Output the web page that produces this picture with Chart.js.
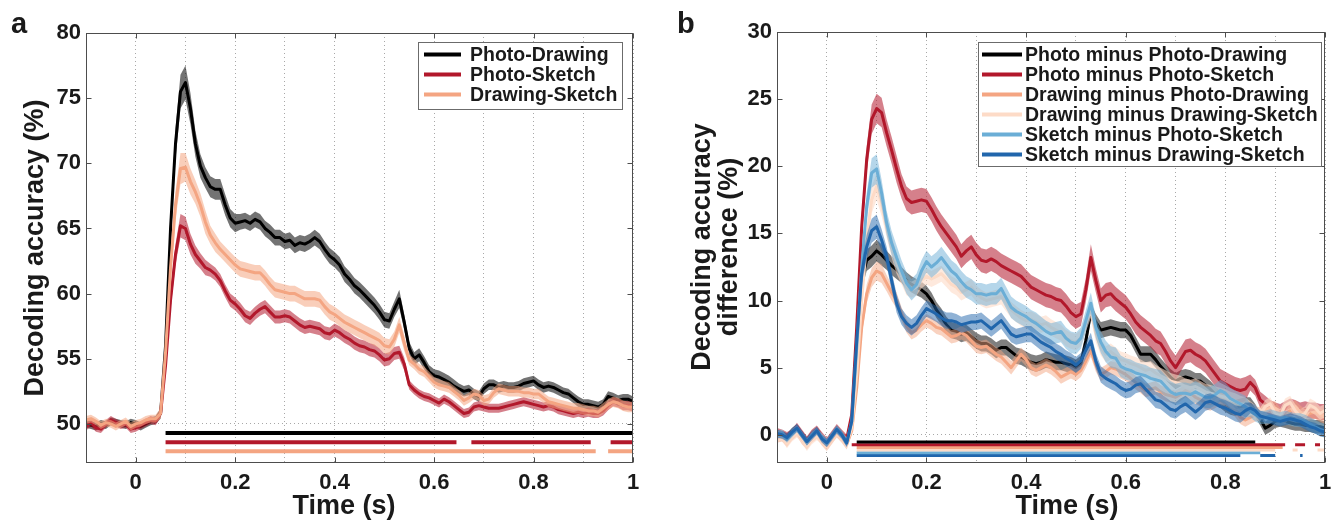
<!DOCTYPE html>
<html lang="en">
<head>
<meta charset="UTF-8">
<title>Decoding accuracy over time</title>
<script src="https://cdn.jsdelivr.net/npm/chart.js@4.4.8/dist/chart.umd.min.js"></script>
<style>
  html, body { margin: 0; padding: 0; background: #fff; }
  body { width: 1344px; height: 521px; position: relative; overflow: hidden; }
  canvas { position: absolute; top: 0; }
  #chartA { left: 0; }
  #chartB { left: 670px; }
</style>
</head>
<body>
<canvas id="chartA" width="665" height="521"></canvas>
<canvas id="chartB" width="674" height="521"></canvas>
<script>
// time axis (s), one sample every 10 ms
const times = [
  -0.1, -0.09, -0.08, -0.07, -0.06, -0.05, -0.04, -0.03, -0.02, -0.01, 0, 0.01, 0.02, 0.03, 0.04,
  0.05, 0.06, 0.07, 0.08, 0.09, 0.1, 0.11, 0.12, 0.13, 0.14,
  0.15, 0.16, 0.17, 0.18, 0.19, 0.2, 0.21, 0.22, 0.23, 0.24,
  0.25, 0.26, 0.27, 0.28, 0.29, 0.3, 0.31, 0.32, 0.33, 0.34,
  0.35, 0.36, 0.37, 0.38, 0.39, 0.4, 0.41, 0.42, 0.43, 0.44,
  0.45, 0.46, 0.47, 0.48, 0.49, 0.5, 0.51, 0.52, 0.53, 0.54,
  0.55, 0.56, 0.57, 0.58, 0.59, 0.6, 0.61, 0.62, 0.63, 0.64,
  0.65, 0.66, 0.67, 0.68, 0.69, 0.7, 0.71, 0.72, 0.73, 0.74,
  0.75, 0.76, 0.77, 0.78, 0.79, 0.8, 0.81, 0.82, 0.83, 0.84,
  0.85, 0.86, 0.87, 0.88, 0.89, 0.9, 0.91, 0.92, 0.93, 0.94,
  0.95, 0.96, 0.97, 0.98, 0.99, 1
]

const xGrid = [-0.1, 0, 0.1, 0.2, 0.3, 0.4, 0.5, 0.6, 0.7, 0.8, 0.9, 1]
const xTicks = [0, 0.2, 0.4, 0.6, 0.8, 1]
const xTickLabels = ['0', '0.2', '0.4', '0.6', '0.8', '1']
const yTicksA = [50, 55, 60, 65, 70, 75, 80]
const yTicksB = [0, 5, 10, 15, 20, 25, 30]

// ---- panel a: pairwise decoding accuracy (%)
const namesA = ['Photo-Drawing', 'Photo-Sketch', 'Drawing-Sketch']

const photoDrawingA = [
  50.0, 49.9, 49.8, 50.0, 49.9, 50.2, 50.1, 50.0, 49.9, 50.1, 50.0, 49.8, 50.0, 50.2, 50.3,
  50.8, 56.0, 65.0, 71.5, 75.5, 76.2, 74.2, 71.5, 69.8, 68.9,
  68.2, 68.0, 68.0, 66.8, 65.8, 65.4, 65.5, 65.6, 65.4, 65.7,
  65.5, 65.0, 64.7, 64.3, 64.3, 64.0, 64.1, 63.7, 63.9, 63.8,
  64.0, 64.3, 64.0, 63.4, 62.9, 62.6, 62.2, 61.5, 61.1, 60.6,
  60.3, 59.9, 59.5, 59.1, 58.6, 58.0, 57.9, 58.8, 59.6, 57.8,
  55.8, 55.0, 55.3, 54.7, 54.0, 53.7, 53.6, 53.4, 53.2, 52.9,
  52.7, 52.5, 52.6, 52.3, 52.1, 52.7, 53.0, 53.0, 52.8, 52.9,
  52.8, 52.8, 52.9, 53.1, 53.2, 53.3, 53.0, 52.8, 52.9, 52.8,
  52.6, 52.4, 52.3, 52.0, 51.7, 51.5, 51.5, 51.4, 51.3, 51.5,
  52.1, 52.0, 51.8, 51.9, 51.9, 51.7
]
const photoSketchA = [
  49.8, 50.1, 49.7, 49.6, 50.0, 50.3, 50.1, 49.9, 50.0, 49.6, 49.7, 49.9, 50.1, 50.3, 50.2,
  50.8, 54.5, 59.5, 63.0, 65.2, 65.0, 63.8, 63.0, 62.5, 62.0,
  61.8, 61.5, 61.0, 60.2, 59.5, 59.2, 58.8, 58.3, 58.1, 58.5,
  58.8, 59.0, 58.6, 58.2, 58.2, 58.3, 58.2, 57.9, 57.6, 57.4,
  57.5, 57.4, 57.3, 57.0, 56.9, 57.2, 57.0, 56.7, 56.5, 56.2,
  56.0, 55.9, 55.7, 55.6, 55.3, 54.9, 55.0, 55.4, 55.5, 54.6,
  53.0, 52.6, 52.3, 52.1, 52.0, 51.8, 51.6, 51.9, 51.7, 51.4,
  51.1, 50.8, 50.9, 51.3, 51.4, 51.3, 51.2, 51.2, 51.2, 51.3,
  51.4, 51.5, 51.6, 51.7, 51.6, 51.5, 51.4, 51.3, 51.4, 51.3,
  51.1, 51.0, 50.9, 50.8, 50.9, 50.8, 50.9, 50.8, 50.8, 51.0,
  51.4, 51.7, 51.6, 51.4, 51.4, 51.3
]
const drawingSketchA = [
  50.3, 50.4, 50.2, 49.9, 50.1, 50.0, 49.8, 50.0, 50.2, 49.8, 50.0, 50.1, 50.3, 50.4, 50.4,
  50.8, 55.5, 62.0, 66.8, 69.6, 69.7, 68.6, 67.8, 66.8, 65.5,
  64.5, 63.9, 63.4, 63.0, 62.6, 62.2, 61.9, 61.8, 61.7, 61.6,
  61.6, 61.2, 60.7, 60.3, 60.2, 60.1, 60.0, 60.0, 59.8, 59.6,
  59.6, 59.6, 59.5, 59.0, 58.6, 58.4, 58.1, 57.8, 57.6, 57.4,
  57.2, 57.0, 56.8, 56.6, 56.4, 56.0, 55.9, 56.5, 57.6, 56.2,
  54.9, 54.6, 54.2, 54.0, 53.6, 53.2, 53.0, 52.9, 52.8, 52.5,
  52.2, 51.8, 52.0, 52.3, 52.2, 51.8, 51.9, 52.4, 52.7, 52.6,
  52.5, 52.5, 52.5, 52.4, 52.4, 52.3, 52.3, 52.0, 51.7, 51.6,
  51.5, 51.4, 51.3, 51.2, 51.2, 51.1, 51.0, 51.0, 50.9, 51.2,
  51.5, 51.7, 51.6, 51.4, 51.3, 51.3
]

// standard error of the mean for each curve
const photoDrawingSemA = [
  0.3, 0.3, 0.3, 0.3, 0.3, 0.3, 0.3, 0.3, 0.3, 0.3, 0.3, 0.3, 0.3, 0.3, 0.3,
  0.4, 0.7, 1.0, 1.2, 1.3, 1.3, 1.2, 1.0, 0.9, 0.8,
  0.8, 0.8, 0.8, 0.8, 0.7, 0.7, 0.6, 0.6, 0.6, 0.6,
  0.6, 0.6, 0.6, 0.6, 0.6, 0.6, 0.6, 0.6, 0.6, 0.6,
  0.6, 0.6, 0.6, 0.6, 0.6, 0.6, 0.6, 0.6, 0.6, 0.6,
  0.6, 0.6, 0.6, 0.6, 0.6, 0.6, 0.6, 0.6, 0.7, 0.6,
  0.5, 0.5, 0.5, 0.5, 0.5, 0.5, 0.5, 0.5, 0.5, 0.5,
  0.4, 0.4, 0.4, 0.4, 0.4, 0.4, 0.4, 0.4, 0.4, 0.4,
  0.4, 0.4, 0.4, 0.4, 0.4, 0.4, 0.4, 0.4, 0.4, 0.4,
  0.4, 0.4, 0.4, 0.4, 0.4, 0.4, 0.4, 0.4, 0.4, 0.4,
  0.4, 0.4, 0.4, 0.4, 0.4, 0.4
]
const photoSketchSemA = [
  0.3, 0.3, 0.3, 0.3, 0.3, 0.3, 0.3, 0.3, 0.3, 0.3, 0.3, 0.3, 0.3, 0.3, 0.3,
  0.3, 0.5, 0.7, 0.8, 0.9, 0.9, 0.8, 0.7, 0.6, 0.6,
  0.5, 0.5, 0.5, 0.5, 0.5, 0.5, 0.5, 0.5, 0.5, 0.5,
  0.5, 0.5, 0.5, 0.5, 0.5, 0.5, 0.5, 0.5, 0.5, 0.5,
  0.5, 0.5, 0.5, 0.5, 0.5, 0.5, 0.5, 0.5, 0.5, 0.5,
  0.5, 0.5, 0.5, 0.5, 0.5, 0.5, 0.5, 0.5, 0.5, 0.5,
  0.35, 0.35, 0.35, 0.35, 0.35, 0.35, 0.35, 0.35, 0.35, 0.35,
  0.35, 0.35, 0.35, 0.35, 0.35, 0.35, 0.35, 0.35, 0.35, 0.35,
  0.35, 0.35, 0.35, 0.35, 0.35, 0.35, 0.35, 0.35, 0.35, 0.35,
  0.35, 0.35, 0.35, 0.35, 0.35, 0.35, 0.35, 0.35, 0.35, 0.35,
  0.35, 0.35, 0.35, 0.35, 0.35, 0.35
]
const drawingSketchSemA = [
  0.3, 0.3, 0.3, 0.3, 0.3, 0.3, 0.3, 0.3, 0.3, 0.3, 0.3, 0.3, 0.3, 0.3, 0.3,
  0.4, 0.6, 0.9, 1.1, 1.2, 1.1, 1.0, 0.9, 0.9, 0.9,
  0.7, 0.7, 0.6, 0.6, 0.6, 0.6, 0.6, 0.6, 0.6, 0.6,
  0.6, 0.6, 0.6, 0.6, 0.6, 0.6, 0.6, 0.6, 0.6, 0.6,
  0.6, 0.6, 0.6, 0.6, 0.6, 0.6, 0.6, 0.6, 0.6, 0.6,
  0.6, 0.6, 0.6, 0.6, 0.6, 0.6, 0.6, 0.6, 0.6, 0.6,
  0.4, 0.4, 0.4, 0.4, 0.4, 0.4, 0.4, 0.4, 0.4, 0.4,
  0.4, 0.4, 0.4, 0.4, 0.4, 0.4, 0.4, 0.4, 0.4, 0.4,
  0.4, 0.4, 0.4, 0.4, 0.4, 0.4, 0.4, 0.4, 0.4, 0.4,
  0.4, 0.4, 0.4, 0.4, 0.4, 0.4, 0.4, 0.4, 0.4, 0.4,
  0.4, 0.4, 0.4, 0.4, 0.4, 0.4
]

// significance bars: one level per curve, list of [start, end] in s
const sigLevelsA = [49.3, 48.6, 47.9]
const sigSpansA = [
  [[0.06, 1.0]],
  [[0.06, 0.645], [0.675, 0.915], [0.955, 1.0]],
  [[0.06, 0.925], [0.95, 1.0]]
]

// ---- panel b: decoding accuracy difference (%)
const namesB = [
  'Photo minus Photo-Drawing',
  'Photo minus Photo-Sketch',
  'Drawing minus Photo-Drawing',
  'Drawing minus Drawing-Sketch',
  'Sketch minus Photo-Sketch',
  'Sketch minus Drawing-Sketch'
]

const photoMinusPDB = [
  0.1, 0.0, -0.2, 0.2, 0.5, 0.0, -0.5, 0.0, 0.3, -0.2, -0.6, -0.1, 0.4, 0.0, -0.5,
  0.8, 6.0, 11.5, 13.0, 13.3, 13.7, 13.4, 13.0, 12.6, 12.3,
  11.9, 11.5, 11.2, 11.0, 10.8, 10.5, 10.0, 9.3, 8.8, 8.2,
  7.8, 7.7, 7.5, 7.6, 7.3, 7.0, 6.8, 6.8, 6.6, 6.3,
  6.5, 6.5, 6.2, 5.9, 5.8, 5.6, 5.4, 5.3, 5.4, 5.6,
  5.5, 5.4, 5.4, 5.3, 5.2, 5.0, 5.3, 7.0, 9.2, 8.4,
  7.8, 7.9, 8.0, 7.9, 7.8, 7.8, 7.4, 6.7, 6.0, 6.0,
  6.0, 5.6, 5.1, 4.7, 4.3, 4.0, 4.2, 4.3, 4.2, 4.0,
  4.0, 3.7, 3.4, 3.0, 2.6, 2.3, 2.1, 2.0, 2.1, 2.2,
  2.3, 1.8, 1.2, 0.5, 0.7, 1.0, 1.1, 1.0, 0.9, 0.8,
  0.8, 0.7, 0.7, 0.6, 0.6, 0.5
]
const photoMinusPSB = [
  0.2, 0.1, -0.1, 0.1, 0.6, 0.1, -0.4, 0.1, 0.4, -0.1, -0.5, 0.0, 0.5, 0.1, -0.3,
  1.5, 8.0, 15.5, 20.5, 23.5, 24.3, 24.0, 22.5, 21.2, 19.8,
  18.5, 17.6, 17.3, 17.4, 17.5, 17.4, 16.8, 16.1, 15.5, 15.0,
  14.5, 14.0, 13.3, 13.7, 14.0, 13.4, 13.0, 12.9, 13.1, 12.9,
  12.6, 12.4, 12.2, 12.0, 11.8, 11.4, 11.0, 10.8, 10.6, 10.4,
  10.3, 10.1, 10.0, 9.6, 9.1, 8.8, 9.0, 10.8, 13.2, 11.5,
  10.0, 10.4, 10.5, 10.1, 9.8, 9.5, 9.0, 8.4, 8.0, 7.7,
  7.4, 7.0, 6.8, 6.2, 5.5, 5.0, 5.6, 6.2, 6.3, 6.0,
  5.8, 5.5, 5.0, 4.5, 4.0, 3.8, 3.6, 3.4, 3.3, 3.4,
  3.9, 3.5, 2.6, 2.3, 2.0, 1.8, 1.7, 1.9, 2.1, 2.0,
  1.8, 1.9, 1.8, 1.8, 1.7, 1.7
]
const drawingMinusPDB = [
  -0.2, -0.1, -0.5, 0.0, 0.3, -0.3, -0.7, -0.2, 0.1, -0.4, -0.8, -0.3, 0.2, -0.2, -0.7,
  0.3, 3.5, 8.0, 10.5, 11.7, 12.2, 12.0, 11.3, 10.6, 10.0,
  9.0, 8.1, 7.6, 7.8, 8.2, 8.5, 8.3, 8.0, 7.9, 7.6,
  7.3, 7.4, 7.6, 7.4, 7.0, 6.6, 6.5, 6.6, 6.3, 6.0,
  5.8, 5.4, 5.0, 5.5, 6.0, 5.6, 5.0, 4.8, 5.0, 5.2,
  5.0, 4.7, 4.3, 4.5, 4.7, 4.5, 4.8, 5.5, 6.3, 5.2,
  4.5, 4.7, 5.0, 4.9, 4.7, 4.5, 4.2, 3.9, 3.6, 3.3,
  3.4, 3.5, 3.2, 3.0, 2.9, 2.8, 3.0, 3.3, 3.1, 2.8,
  2.6, 2.4, 2.3, 2.5, 2.8, 2.6, 2.2, 1.8, 1.3, 1.1,
  1.3, 1.5, 1.6, 1.8, 2.0, 2.0, 1.5, 1.3, 1.8, 2.1,
  1.7, 1.4, 1.6, 1.7, 1.5, 1.3
]
const drawingMinusDSB = [
  -0.1, 0.0, -0.6, -0.1, 0.2, -0.2, -0.8, -0.3, 0.0, -0.3, -0.7, -0.2, 0.3, -0.1, -0.6,
  0.5, 4.5, 10.0, 14.5, 17.5, 18.5, 17.2, 15.5, 14.0, 12.8,
  11.8, 11.0, 10.8, 11.0, 11.5, 11.8, 11.6, 11.8, 12.0, 11.6,
  11.2, 11.0, 10.6, 10.8, 11.0, 10.5, 10.2, 10.0, 10.1, 10.2,
  10.3, 9.8, 9.3, 9.0, 8.7, 8.5, 8.6, 8.4, 8.2, 8.3,
  8.0, 7.8, 7.6, 7.2, 7.0, 6.9, 7.2, 8.3, 9.3, 7.5,
  6.5, 6.0, 6.2, 5.9, 5.6, 5.5, 5.3, 5.2, 5.0, 4.8,
  4.9, 4.6, 4.4, 4.2, 4.0, 3.9, 3.8, 3.6, 3.5, 3.6,
  3.4, 3.2, 3.1, 3.0, 2.9, 2.8, 2.6, 2.5, 2.3, 2.2,
  2.0, 1.7, 1.5, 2.1, 2.3, 1.6, 1.4, 2.2, 2.4, 1.8,
  1.4, 1.6, 2.2, 2.0, 1.6, 1.8
]
const sketchMinusPSB = [
  0.0, 0.1, -0.3, 0.1, 0.5, 0.0, -0.5, 0.0, 0.3, -0.2, -0.6, -0.1, 0.4, 0.0, -0.6,
  1.0, 6.5, 12.5, 17.0, 19.5, 19.8, 18.0, 15.8, 14.3, 13.2,
  12.2, 11.3, 10.8, 11.2, 12.2, 12.9, 12.5, 12.8, 13.2, 12.7,
  12.2, 11.9, 11.4, 11.0, 10.8, 10.5, 10.5, 10.4, 10.5, 10.5,
  10.9, 10.2, 9.5, 9.2, 9.0, 8.8, 8.5, 8.3, 8.0, 7.7,
  7.5, 7.6, 7.7, 7.2, 6.9, 6.8, 7.2, 8.5, 9.8, 8.0,
  6.9, 6.2, 5.8, 5.7, 5.1, 4.9, 4.8, 4.6, 4.5, 4.4,
  4.2, 4.1, 4.0, 3.6, 3.2, 3.0, 3.1, 3.1, 3.0, 3.2,
  3.0, 2.8, 2.8, 3.0, 3.3, 3.1, 2.7, 2.5, 2.3, 2.1,
  1.8, 1.5, 1.3, 1.3, 1.4, 1.3, 1.2, 1.3, 1.2, 1.1,
  1.1, 1.0, 0.8, 0.6, 0.4, 0.3
]
const sketchMinusDSB = [
  0.1, 0.0, -0.2, 0.2, 0.5, 0.0, -0.5, -0.1, 0.3, -0.3, -0.6, -0.1, 0.4, 0.0, -0.6,
  1.0, 7.0, 12.0, 14.0, 15.2, 15.5, 14.5, 13.3, 11.5, 9.8,
  8.8, 8.3, 8.0, 8.3, 8.9, 9.4, 9.2, 9.0, 8.7, 8.5,
  8.5, 8.4, 8.2, 8.3, 8.4, 8.4, 8.5, 8.2, 7.9, 8.2,
  8.5, 8.0, 7.5, 7.3, 7.4, 7.5, 7.5, 7.2, 6.9, 6.7,
  6.5, 6.2, 6.0, 5.7, 5.5, 5.2, 5.5, 6.3, 7.0, 5.5,
  4.5, 4.2, 4.0, 3.8, 3.5, 3.3, 3.4, 3.7, 3.8, 3.4,
  3.0, 2.6, 2.5, 2.2, 1.9, 1.8, 2.1, 2.3, 2.0, 1.7,
  2.0, 2.4, 2.5, 2.3, 2.1, 2.0, 1.8, 1.6, 1.5, 1.8,
  2.0, 1.8, 1.4, 1.3, 1.2, 1.1, 1.0, 1.1, 1.2, 1.1,
  1.0, 0.8, 0.6, 0.5, 0.3, 0.2
]

const photoMinusPDSemB = [
  0.3, 0.3, 0.3, 0.3, 0.3, 0.3, 0.3, 0.3, 0.3, 0.3, 0.3, 0.3, 0.3, 0.3, 0.3,
  0.3, 0.5, 0.7, 0.8, 0.8, 0.8, 0.8, 0.7, 0.7, 0.7,
  0.6, 0.6, 0.6, 0.6, 0.6, 0.6, 0.6, 0.6, 0.6, 0.6,
  0.6, 0.6, 0.6, 0.6, 0.6, 0.6, 0.6, 0.6, 0.6, 0.6,
  0.6, 0.6, 0.6, 0.6, 0.6, 0.6, 0.6, 0.6, 0.6, 0.6,
  0.6, 0.6, 0.6, 0.6, 0.6, 0.6, 0.6, 0.6, 0.6, 0.6,
  0.6, 0.6, 0.6, 0.6, 0.6, 0.6, 0.6, 0.6, 0.6, 0.6,
  0.6, 0.6, 0.6, 0.6, 0.6, 0.6, 0.6, 0.6, 0.6, 0.6,
  0.6, 0.6, 0.6, 0.6, 0.6, 0.6, 0.6, 0.6, 0.6, 0.6,
  0.5, 0.5, 0.5, 0.5, 0.5, 0.5, 0.5, 0.5, 0.5, 0.5,
  0.5, 0.5, 0.5, 0.5, 0.5, 0.5
]
const photoMinusPSSemB = [
  0.3, 0.3, 0.3, 0.3, 0.3, 0.3, 0.3, 0.3, 0.3, 0.3, 0.3, 0.3, 0.3, 0.3, 0.3,
  0.4, 0.7, 0.9, 1.0, 1.1, 1.1, 1.1, 1.0, 1.0, 1.0,
  0.9, 0.9, 0.9, 0.9, 0.9, 0.9, 0.9, 0.9, 0.9, 0.9,
  0.9, 0.9, 0.9, 0.9, 0.9, 0.9, 0.9, 0.9, 0.9, 0.9,
  0.9, 0.9, 0.9, 0.9, 0.9, 0.9, 0.9, 0.9, 0.9, 0.9,
  0.9, 0.9, 0.9, 0.9, 0.9, 0.9, 0.9, 0.9, 1.0, 0.9,
  0.9, 0.9, 0.9, 0.9, 0.9, 0.9, 0.9, 0.9, 0.9, 0.9,
  0.9, 0.9, 0.9, 0.9, 0.9, 0.9, 0.9, 0.9, 0.9, 0.9,
  0.9, 0.9, 0.9, 0.9, 0.9, 0.9, 0.9, 0.9, 0.9, 0.9,
  0.6, 0.6, 0.6, 0.6, 0.6, 0.6, 0.6, 0.6, 0.6, 0.6,
  0.6, 0.6, 0.6, 0.6, 0.6, 0.6
]
const drawingMinusPDSemB = [
  0.4, 0.4, 0.4, 0.4, 0.4, 0.4, 0.4, 0.4, 0.4, 0.4, 0.4, 0.4, 0.4, 0.4, 0.4,
  0.3, 0.5, 0.6, 0.7, 0.7, 0.7, 0.7, 0.6, 0.6, 0.6,
  0.5, 0.5, 0.5, 0.5, 0.5, 0.5, 0.5, 0.5, 0.5, 0.5,
  0.5, 0.5, 0.5, 0.5, 0.5, 0.5, 0.5, 0.5, 0.5, 0.5,
  0.5, 0.5, 0.5, 0.5, 0.5, 0.5, 0.5, 0.5, 0.5, 0.5,
  0.5, 0.5, 0.5, 0.5, 0.5, 0.5, 0.5, 0.5, 0.5, 0.5,
  0.5, 0.5, 0.5, 0.5, 0.5, 0.5, 0.5, 0.5, 0.5, 0.5,
  0.5, 0.5, 0.5, 0.5, 0.5, 0.5, 0.5, 0.5, 0.5, 0.5,
  0.5, 0.5, 0.5, 0.5, 0.5, 0.5, 0.5, 0.5, 0.5, 0.5,
  0.5, 0.5, 0.5, 0.5, 0.5, 0.5, 0.5, 0.5, 0.5, 0.5,
  0.5, 0.5, 0.5, 0.5, 0.5, 0.5
]
const drawingMinusDSSemB = [
  0.4, 0.4, 0.4, 0.4, 0.4, 0.4, 0.4, 0.4, 0.4, 0.4, 0.4, 0.4, 0.4, 0.4, 0.4,
  0.3, 0.6, 0.8, 0.9, 1.0, 1.0, 0.9, 0.8, 0.8, 0.8,
  0.6, 0.6, 0.6, 0.6, 0.6, 0.6, 0.6, 0.6, 0.6, 0.6,
  0.6, 0.6, 0.6, 0.6, 0.6, 0.6, 0.6, 0.6, 0.6, 0.6,
  0.6, 0.6, 0.6, 0.6, 0.6, 0.6, 0.6, 0.6, 0.6, 0.6,
  0.6, 0.6, 0.6, 0.6, 0.6, 0.6, 0.6, 0.6, 0.6, 0.6,
  0.6, 0.6, 0.6, 0.6, 0.6, 0.6, 0.6, 0.6, 0.6, 0.6,
  0.6, 0.6, 0.6, 0.6, 0.6, 0.6, 0.6, 0.6, 0.6, 0.6,
  0.6, 0.6, 0.6, 0.6, 0.6, 0.6, 0.6, 0.6, 0.6, 0.6,
  0.5, 0.5, 0.5, 0.5, 0.5, 0.5, 0.5, 0.5, 0.5, 0.5,
  0.5, 0.5, 0.5, 0.5, 0.5, 0.5
]
const sketchMinusPSSemB = [
  0.3, 0.3, 0.3, 0.3, 0.3, 0.3, 0.3, 0.3, 0.3, 0.3, 0.3, 0.3, 0.3, 0.3, 0.3,
  0.4, 0.7, 0.9, 1.0, 1.1, 1.1, 1.0, 0.9, 0.9, 0.9,
  0.8, 0.8, 0.8, 0.8, 0.8, 0.8, 0.8, 0.8, 0.8, 0.8,
  0.8, 0.8, 0.8, 0.8, 0.8, 0.8, 0.8, 0.8, 0.8, 0.8,
  0.8, 0.8, 0.8, 0.8, 0.8, 0.8, 0.8, 0.8, 0.8, 0.8,
  0.8, 0.8, 0.8, 0.8, 0.8, 0.8, 0.8, 0.8, 0.8, 0.8,
  0.8, 0.8, 0.8, 0.8, 0.8, 0.8, 0.8, 0.8, 0.8, 0.8,
  0.8, 0.8, 0.8, 0.8, 0.8, 0.8, 0.8, 0.8, 0.8, 0.8,
  0.8, 0.8, 0.8, 0.8, 0.8, 0.8, 0.8, 0.8, 0.8, 0.8,
  0.5, 0.5, 0.5, 0.5, 0.5, 0.5, 0.5, 0.5, 0.5, 0.5,
  0.5, 0.5, 0.5, 0.5, 0.5, 0.5
]
const sketchMinusDSSemB = [
  0.3, 0.3, 0.3, 0.3, 0.3, 0.3, 0.3, 0.3, 0.3, 0.3, 0.3, 0.3, 0.3, 0.3, 0.3,
  0.3, 0.6, 0.8, 0.9, 0.9, 0.9, 0.8, 0.7, 0.7, 0.7,
  0.6, 0.6, 0.6, 0.6, 0.6, 0.6, 0.6, 0.6, 0.6, 0.6,
  0.6, 0.6, 0.6, 0.6, 0.6, 0.6, 0.6, 0.6, 0.6, 0.6,
  0.6, 0.6, 0.6, 0.6, 0.6, 0.6, 0.6, 0.6, 0.6, 0.6,
  0.6, 0.6, 0.6, 0.6, 0.6, 0.6, 0.6, 0.6, 0.6, 0.6,
  0.6, 0.6, 0.6, 0.6, 0.6, 0.6, 0.6, 0.6, 0.6, 0.6,
  0.6, 0.6, 0.6, 0.6, 0.6, 0.6, 0.6, 0.6, 0.6, 0.6,
  0.6, 0.6, 0.6, 0.6, 0.6, 0.6, 0.6, 0.6, 0.6, 0.6,
  0.4, 0.4, 0.4, 0.4, 0.4, 0.4, 0.4, 0.4, 0.4, 0.4,
  0.4, 0.4, 0.4, 0.4, 0.4, 0.4
]

const sigLevelsB = [-0.54, -0.75, -0.95, -1.13, -1.33, -1.54]
const sigSpansB = [
  [[0.06, 0.86]],
  [[0.05, 0.92], [0.94, 0.96], [0.98, 0.99]],
  [[0.06, 0.915]],
  [[0.06, 0.9], [0.935, 0.945], [0.985, 1.0]],
  [[0.06, 0.87]],
  [[0.06, 0.83], [0.87, 0.9], [0.95, 0.955]]
]

// ---- styling
const fontFamily = '"Liberation Sans", Arial, Helvetica, sans-serif'
const textColor = '#1a1a1a'
const axisColor = '#4d4d4d'
const gridColor = '#a8a8a8'
const tickLen = 5

const colorsA = ['#000000', '#b2182b', '#f4a582']
const bandsA = ['rgba(0,0,0,0.55)', 'rgba(178,24,43,0.55)', 'rgba(244,165,130,0.55)']
const colorsB = ['#000000', '#b2182b', '#f4a582', '#fddbc7', '#6baed6', '#2166ac']
const bandsB = ['rgba(0,0,0,0.5)', 'rgba(178,24,43,0.55)', 'rgba(244,165,130,0.5)',
                'rgba(253,219,199,0.6)', 'rgba(107,174,214,0.5)', 'rgba(33,102,172,0.5)']

// per panel layout of the hand drawn bits (canvas pixel coords)
const panels = {
  chartA: {
    letter: 'a', letterX: 11, letterY: 33,
    xTitle: 'Time (s)', xTitleX: 344, xTitleY: 514,
    yTitle: ['Decoding accuracy (%)'], yTitleX: [43], yTitleY: 248,
    yTicks: yTicksA,
    legend: { x: 418, y: 42, w: 204, h: 67, rowY: 54.5, rowH: 20, lineX1: 424, lineX2: 461, textX: 470,
              names: namesA, colors: colorsA }
  },
  chartB: {
    letter: 'b', letterX: 7, letterY: 33,
    xTitle: 'Time (s)', xTitleX: 397, xTitleY: 514,
    yTitle: ['Decoding accuracy', 'difference (%)'], yTitleX: [40, 67], yTitleY: 247,
    yTicks: yTicksB,
    legend: { x: 308, y: 42, w: 343, h: 124, rowY: 54.5, rowH: 20, lineX1: 312, lineX2: 352, textX: 355,
              names: namesB, colors: colorsB }
  }
}

const framePlugin = {
  id: 'frame',
  afterDraw(chart) {
    const p = panels[chart.canvas.id]
    const {ctx, chartArea: ca} = chart
    const xs = chart.scales.x, ys = chart.scales.y
    const L = Math.round(ca.left) + 0.5, R = Math.round(ca.right) - 0.5
    const T = Math.round(ca.top) + 0.5, B = Math.round(ca.bottom) - 0.5
    ctx.save()

    // box with inward ticks
    ctx.strokeStyle = axisColor
    ctx.lineWidth = 1
    ctx.setLineDash([])
    ctx.strokeRect(L, T, R - L, B - T)
    ctx.beginPath()
    xTicks.forEach(v => {
      const px = Math.round(xs.getPixelForValue(v)) + 0.5
      ctx.moveTo(px, B); ctx.lineTo(px, B - tickLen)
      ctx.moveTo(px, T); ctx.lineTo(px, T + tickLen)
    })
    p.yTicks.forEach(v => {
      const py = Math.round(ys.getPixelForValue(v)) + 0.5
      ctx.moveTo(L, py); ctx.lineTo(L + tickLen, py)
      ctx.moveTo(R, py); ctx.lineTo(R - tickLen, py)
    })
    ctx.stroke()

    // legend
    const lg = p.legend
    ctx.fillStyle = '#fff'
    ctx.fillRect(lg.x, lg.y, lg.w, lg.h)
    ctx.strokeStyle = '#6b6b6b'
    ctx.strokeRect(lg.x + 0.5, lg.y + 0.5, lg.w, lg.h)
    ctx.font = '700 19.5px ' + fontFamily
    ctx.textAlign = 'left'
    ctx.textBaseline = 'middle'
    lg.names.forEach((name, i) => {
      const y = lg.rowY + i * lg.rowH
      ctx.strokeStyle = lg.colors[i]
      ctx.lineWidth = 4
      ctx.beginPath()
      ctx.moveTo(lg.lineX1, y); ctx.lineTo(lg.lineX2, y)
      ctx.stroke()
      ctx.fillStyle = textColor
      ctx.fillText(name, lg.textX, y + 1)
    })

    // axis titles and panel letter
    ctx.fillStyle = textColor
    ctx.font = '700 27px ' + fontFamily
    ctx.textAlign = 'center'
    ctx.textBaseline = 'alphabetic'
    ctx.fillText(p.xTitle, p.xTitleX, p.xTitleY)
    p.yTitle.forEach((line, i) => {
      ctx.save()
      ctx.translate(p.yTitleX[i], p.yTitleY)
      ctx.rotate(-Math.PI / 2)
      ctx.fillText(line, 0, 0)
      ctx.restore()
    })
    ctx.font = '700 29px ' + fontFamily
    ctx.textAlign = 'left'
    ctx.fillText(p.letter, p.letterX, p.letterY)
    ctx.restore()
  }
}

const buildDatasets = (values, sems, colors, bands, sigLevels, sigSpans, sigWidth) => {
  const ds = []
  values.forEach((v, i) => {
    const s = sems[i]
    ds.push({
      data: times.map((t, k) => ({x: t, y: v[k] + s[k]})),
      borderWidth: 0, borderColor: 'transparent', backgroundColor: bands[i],
      fill: '+1', order: 1000 - 10 * i
    })
    ds.push({
      data: times.map((t, k) => ({x: t, y: v[k] - s[k]})),
      borderWidth: 0, borderColor: 'transparent', fill: false, order: 999 - 10 * i
    })
    ds.push({
      data: times.map((t, k) => ({x: t, y: v[k]})),
      borderColor: colors[i], borderWidth: 3, borderJoinStyle: 'round',
      fill: false, order: 998 - 10 * i
    })
  })
  sigSpans.forEach((spans, i) => {
    const pts = []
    spans.forEach(([a, b], j) => {
      if (j > 0) pts.push({x: (spans[j - 1][1] + a) / 2, y: null})
      pts.push({x: a, y: sigLevels[i]}, {x: b, y: sigLevels[i]})
    })
    ds.push({
      data: pts, borderColor: colors[i], borderWidth: sigWidth, borderCapStyle: 'butt',
      fill: false, spanGaps: false, order: 0
    })
  })
  return ds
}

const makeChart = (id, datasets, yMin, yMax, yTicks, chanceLevel, yAxisWidth, pad) => {
  return new Chart(document.getElementById(id), {
    type: 'line',
    data: { datasets },
    plugins: [framePlugin],
    options: {
      responsive: false,
      animation: false,
      events: [],
      layout: { padding: pad },
      elements: { point: { radius: 0 }, line: { tension: 0 } },
      plugins: { legend: { display: false }, tooltip: { enabled: false } },
      scales: {
        x: {
          type: 'linear', min: -0.1, max: 1,
          afterBuildTicks: s => { s.ticks = xGrid.map(v => ({value: v})) },
          afterFit: s => { s.height = 58 },
          grid: { color: gridColor, lineWidth: 1, drawTicks: false },
          border: { display: false, dash: [1, 3] },
          ticks: {
            autoSkip: false, maxRotation: 0, padding: 7, color: textColor,
            font: { family: fontFamily, size: 22, weight: 'bold' },
            callback: v => {
              const i = xTicks.findIndex(t => Math.abs(t - v) < 1e-6)
              return i >= 0 ? xTickLabels[i] : ''
            }
          }
        },
        y: {
          min: yMin, max: yMax,
          afterBuildTicks: s => { s.ticks = yTicks.map(v => ({value: v})) },
          afterFit: s => { s.width = yAxisWidth },
          grid: {
            drawTicks: false, lineWidth: 1,
            color: c => (c.tick && c.tick.value === chanceLevel) ? gridColor : 'rgba(0,0,0,0)'
          },
          border: { display: false, dash: [1, 3] },
          ticks: {
            padding: 5, color: textColor,
            font: { family: fontFamily, size: 22, weight: 'bold' }
          }
        }
      }
    }
  })
}

const datasetsA = buildDatasets(
  [photoDrawingA, photoSketchA, drawingSketchA],
  [photoDrawingSemA, photoSketchSemA, drawingSketchSemA],
  colorsA, bandsA, sigLevelsA, sigSpansA, 4)

const datasetsB = buildDatasets(
  [photoMinusPDB, photoMinusPSB, drawingMinusPDB, drawingMinusDSB, sketchMinusPSB, sketchMinusDSB],
  [photoMinusPDSemB, photoMinusPSSemB, drawingMinusPDSemB, drawingMinusDSSemB, sketchMinusPSSemB, sketchMinusDSSemB],
  colorsB, bandsB, sigLevelsB, sigSpansB, 3)

makeChart('chartA', datasetsA, 47, 80, yTicksA, 50, 86, {left: 0, top: 33, right: 32, bottom: 0})
makeChart('chartB', datasetsB, -2.1, 30, yTicksB, 0, 107, {left: 0, top: 32, right: 19, bottom: 0})
</script>
</body>
</html>
